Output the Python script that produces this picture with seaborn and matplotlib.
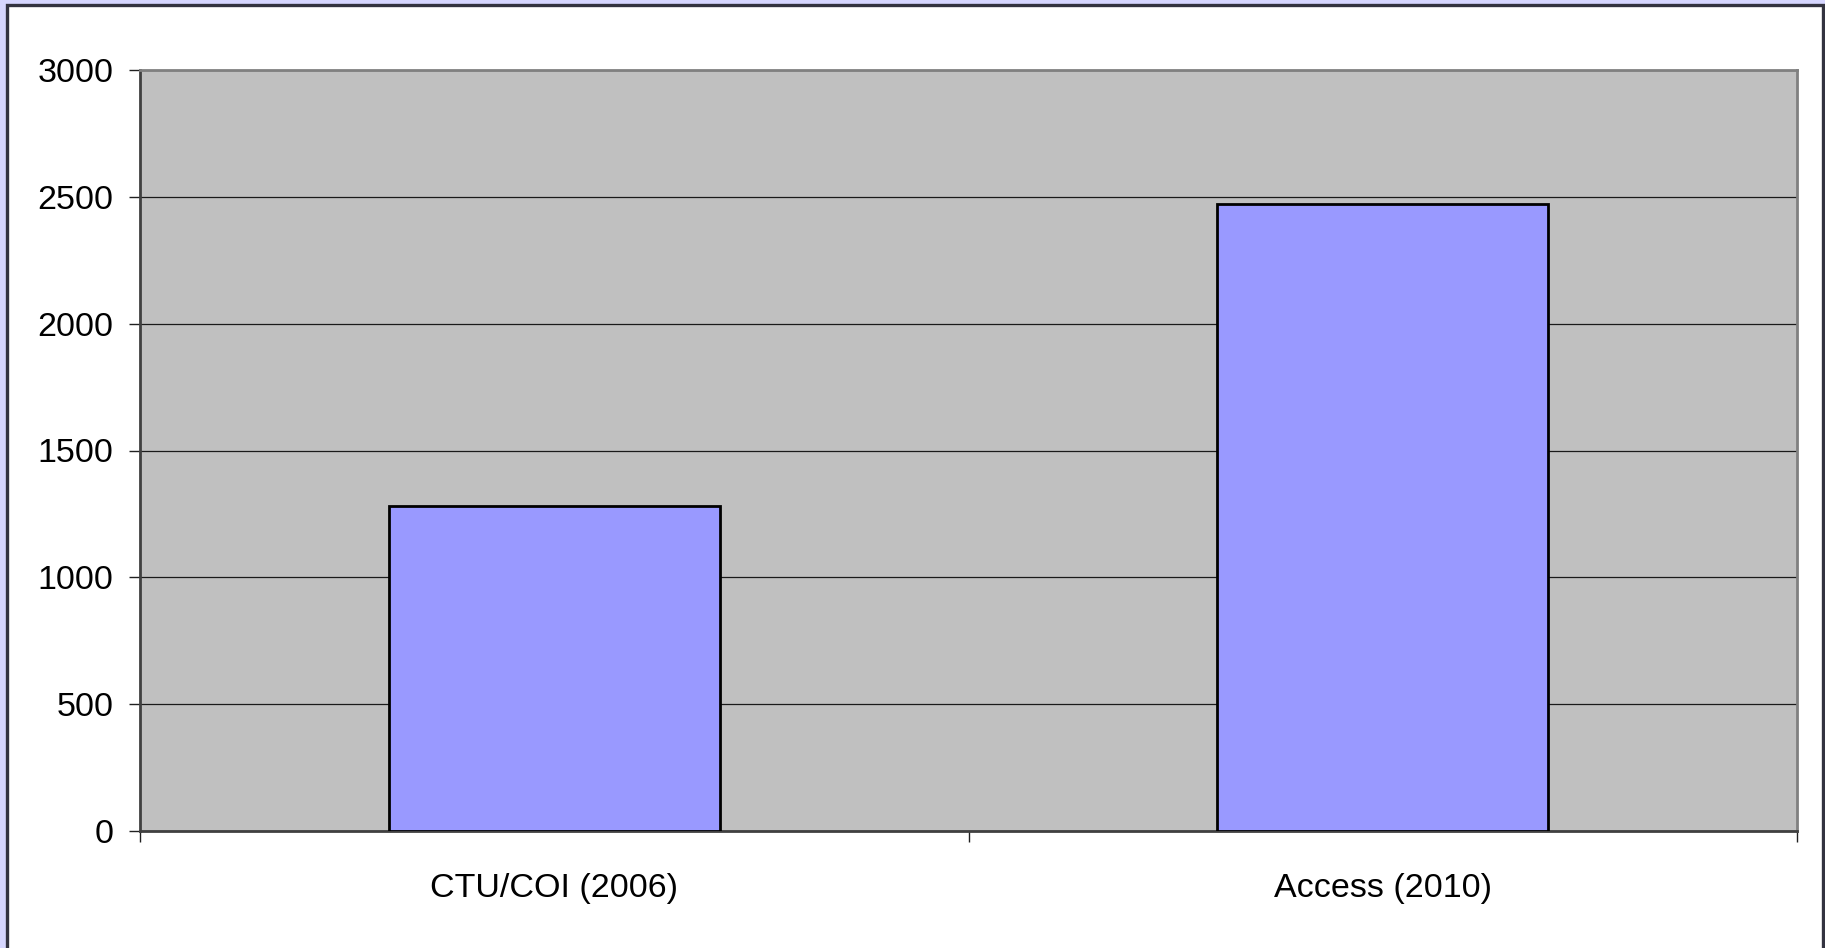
import matplotlib
matplotlib.use("Agg")
import matplotlib.pyplot as plt
from matplotlib.patches import Rectangle
from matplotlib.ticker import FixedLocator
import seaborn as sns
import pandas as pd

categories = ["CTU/COI (2006)", "Access (2010)"]
values = [1280, 2470]
y_ticks = [0, 500, 1000, 1500, 2000, 2500, 3000]

sns.set_theme(style="white")
plt.rcParams["font.family"] = ["Liberation Sans", "DejaVu Sans"]

W, H, DPI = 1825, 948, 100
fig = plt.figure(figsize=(W / DPI, H / DPI), dpi=DPI, facecolor="#D6D6FF")

# white chart panel with dark frame, kept beneath the axes
fig.patches.append(Rectangle((7 / W, -10 / H), (1823 - 7) / W, (H - 5 + 10) / H,
                             transform=fig.transFigure, facecolor="white",
                             edgecolor="#333340", linewidth=2.4, zorder=-10))

ax = fig.add_axes([140 / W, (H - 831) / H, (1797 - 140) / W, (831 - 70) / H])
ax.set_zorder(1)
ax.set_facecolor("#C0C0C0")

df = pd.DataFrame({"category": categories, "value": values})
sns.barplot(data=df, x="category", y="value", ax=ax, width=0.4,
            color="#9999FF", saturation=1, edgecolor="black", linewidth=2.0,
            zorder=3)

ax.set_xlim(-0.5, len(categories) - 0.5)
ax.set_ylim(y_ticks[0], y_ticks[-1])
ax.set_xlabel("")
ax.set_ylabel("")

ax.yaxis.set_major_locator(FixedLocator(y_ticks))
ax.set_yticklabels([str(t) for t in y_ticks])
ax.yaxis.grid(True, color="#1a1a1a", linewidth=0.9)
ax.set_axisbelow(True)

# category boundaries carry the tick marks; labels sit between them
ax.xaxis.set_major_locator(FixedLocator([i - 0.5 for i in range(len(categories) + 1)]))
ax.set_xticklabels([""] * (len(categories) + 1))
ax.xaxis.set_minor_locator(FixedLocator(list(range(len(categories)))))
ax.set_xticklabels(categories, minor=True)

ax.tick_params(axis="y", which="major", direction="out", length=8, width=1,
               color="#202020", left=True, labelsize=24.5, pad=11, labelcolor="black")
ax.tick_params(axis="x", which="major", direction="out", length=8, width=1,
               color="#202020", bottom=True)
ax.tick_params(axis="x", which="minor", length=0, labelsize=24.5, pad=30,
               labelcolor="black")

for side in ["top", "right"]:
    ax.spines[side].set_color("#808080")
    ax.spines[side].set_linewidth(2)
    ax.spines[side].set_visible(True)
for side in ["left", "bottom"]:
    ax.spines[side].set_color("#404040")
    ax.spines[side].set_linewidth(2)
    ax.spines[side].set_visible(True)

fig.savefig("out.png", dpi=DPI, facecolor=fig.get_facecolor())
